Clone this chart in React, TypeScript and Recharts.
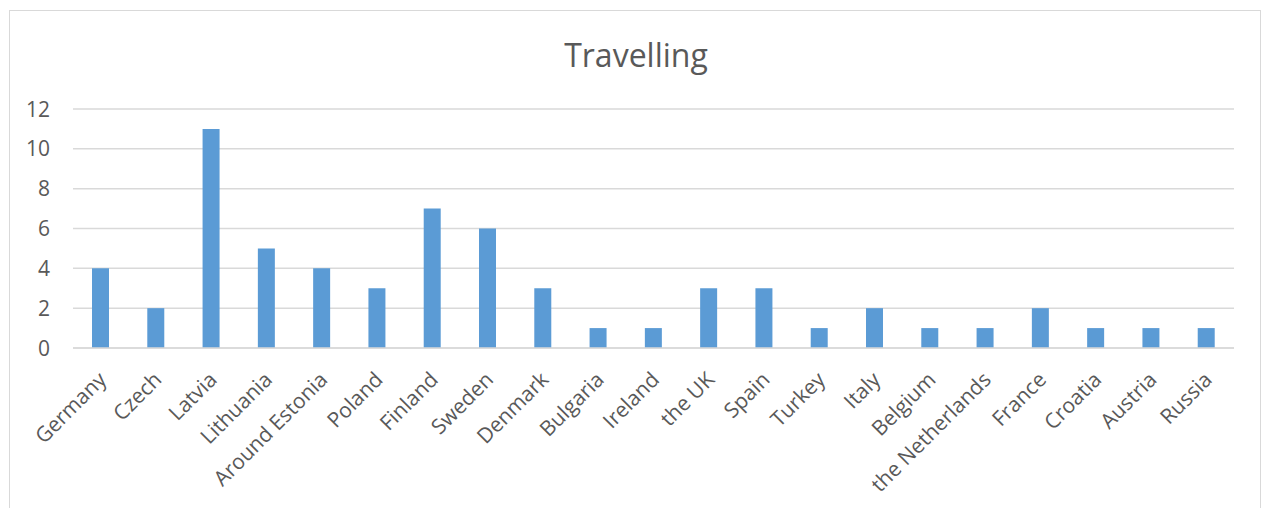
import React from "react";
import { BarChart, Bar, XAxis, YAxis, CartesianGrid } from "recharts";

const categories = [
  "Germany", "Czech", "Latvia", "Lithuania", "Around Estonia", "Poland", "Finland",
  "Sweden", "Denmark", "Bulgaria", "Ireland", "the UK", "Spain", "Turkey", "Italy",
  "Belgium", "the Netherlands", "France", "Croatia", "Austria", "Russia",
];
const values = [4, 2, 11, 5, 4, 3, 7, 6, 3, 1, 1, 3, 3, 1, 2, 1, 1, 2, 1, 1, 1];
const yTicks = [0, 2, 4, 6, 8, 10, 12];
const title = "Travelling";

const data = categories.map((name, i) => ({ name, value: values[i] }));

const FONT = "'Open Sans', 'Noto Sans', sans-serif";
const TEXT = "#595959";

const XTick = (props: any) => {
  const { x, payload } = props;
  return (
    <g transform={`translate(${x + 7},${381})`}>
      <text x={0} y={0} textAnchor="end" transform="rotate(-45)" fill={TEXT}
        fontSize={21} fontFamily={FONT}>
        {payload.value}
      </text>
    </g>
  );
};

const YTick = (props: any) => {
  const { y, payload } = props;
  return (
    <text x={50} y={y} dy="0.36em" textAnchor="end" fill={TEXT} fontSize={21} fontFamily={FONT}>
      {payload.value}
    </text>
  );
};

export default function App() {
  return (
    <div style={{ position: "absolute", left: 0, top: 0, width: 1263, height: 508, background: "#fff", overflow: "hidden" }}>
      <div style={{ position: "absolute", left: 9, top: 10, width: 1252, height: 520, border: "1px solid #d9d9d9", boxSizing: "border-box" }} />
      <div style={{ position: "absolute", left: 0, width: 1272, top: 35, textAlign: "center", fontFamily: FONT, fontSize: 32, color: TEXT, lineHeight: "40px" }}>
        {title}
      </div>
      <div style={{ position: "absolute", left: 0, top: 0 }}>
        <BarChart width={1263} height={508} data={data} margin={{ top: 109, right: 29, bottom: 0, left: 0 }}>
          <CartesianGrid vertical={false} stroke="#d9d9d9" strokeWidth={1.5} />
          <XAxis dataKey="name" interval={0} height={160} tickLine={false}
            axisLine={{ stroke: "#d9d9d9", strokeWidth: 1.5 }} tick={<XTick />} />
          <YAxis width={73} domain={[0, 12]} ticks={yTicks} axisLine={false} tickLine={false} tick={<YTick />} />
          <Bar dataKey="value" fill="#5b9bd5" barSize={17} isAnimationActive={false} />
        </BarChart>
      </div>
    </div>
  );
}
